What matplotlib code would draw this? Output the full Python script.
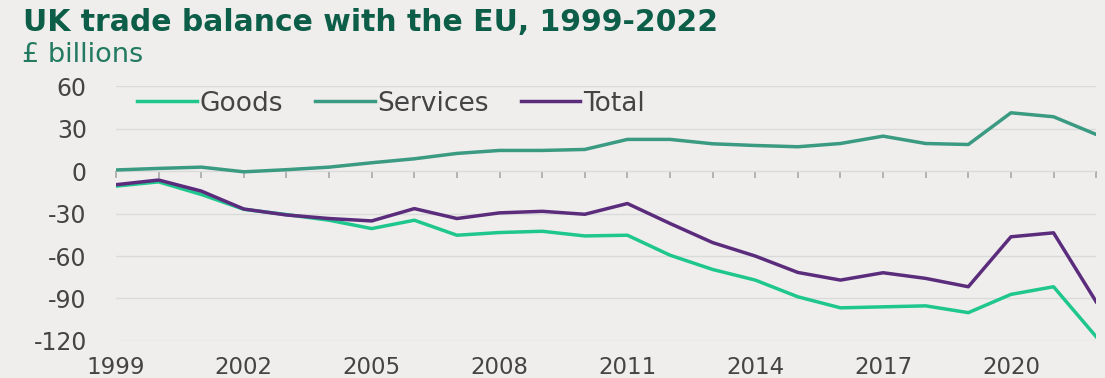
import matplotlib
matplotlib.use("Agg")
import matplotlib.pyplot as plt
import numpy as np

# UK trade balance with the EU, £ billions
years = list(range(1999, 2023))
goods = [-10.6, -7.6, -16.5, -27.0, -30.7, -34.7, -40.6, -34.7, -45.3, -43.4, -42.5, -45.8,
         -45.3, -59.4, -69.5, -77.0, -88.8, -96.6, -95.9, -95.2, -100.0, -87.1, -81.7, -117.0]
services = [0.8, 1.9, 2.8, -0.5, 1.0, 2.8, 5.9, 8.7, 12.5, 14.6, 14.6, 15.3,
            22.4, 22.4, 19.3, 18.1, 17.2, 19.5, 24.7, 19.5, 18.8, 41.2, 38.4, 25.9]
total = [-9.6, -6.3, -14.1, -26.8, -31.0, -33.5, -35.2, -26.5, -33.5, -29.5, -28.4, -30.5,
         -22.9, -37.0, -50.5, -60.0, -71.6, -77.0, -71.8, -75.8, -81.7, -46.4, -43.6, -92.3]
yticks = [60, 30, 0, -30, -60, -90, -120]
xlabels = list(range(1999, 2021, 3))

bg = "#efeeed"
c_goods = "#1fc78f"
c_serv = "#3b9a82"
c_total = "#5b2c7c"
txt = "#444444"

plt.rcParams["font.family"] = ["DejaVu Sans"]
plt.rcParams["axes.unicode_minus"] = False

fig = plt.figure(figsize=(11.05, 3.78), dpi=100, facecolor=bg)
ax = fig.add_axes([0.105, 0.098, 0.887, 0.674], facecolor=bg)

ax.plot(years, goods, color=c_goods, lw=2.5, label="Goods", solid_joinstyle="round")
ax.plot(years, services, color=c_serv, lw=2.5, label="Services", solid_joinstyle="round")
ax.plot(years, total, color=c_total, lw=2.5, label="Total", solid_joinstyle="round")

ax.set_xlim(1999, 2022)
ax.set_ylim(-120, 60)
ax.set_yticks(yticks)
ax.set_xticks(xlabels)
ax.grid(axis="y", color="#dadada", lw=1)
ax.set_axisbelow(True)
for s in ax.spines.values():
    s.set_visible(False)
ax.tick_params(axis="y", length=0, pad=21, labelsize=17, labelcolor=txt)
ax.tick_params(axis="x", length=0, pad=11, labelsize=16.5, labelcolor=txt)

# zero line with yearly tick marks
zx = ax.secondary_xaxis(2 / 3)
zx.set_xticks(years)
zx.tick_params(axis="x", direction="out", length=5, width=1.2, color="#a8a8a8", labelbottom=False, labeltop=False, bottom=True, top=False)
zx.spines["bottom"].set_color("#a8a8a8")
zx.spines["bottom"].set_linewidth(1.2)
zx.spines["top"].set_visible(False)
zx.xaxis.set_ticks_position("bottom")
zx.set_xticklabels([])

leg = ax.legend(loc="upper left", ncol=3, frameon=False, fontsize=19, handlelength=2.25,
                handletextpad=0.12, columnspacing=1.2, bbox_to_anchor=(0.003, 1.055), borderaxespad=0.3)
for t in leg.get_texts():
    t.set_color(txt)

fig.text(0.021, 1 - 31 / 378, "UK trade balance with the EU, 1999-2022", fontsize=21.5, fontweight="bold",
         color="#0d5e48", va="baseline", ha="left")
fig.text(0.020, 1 - 62 / 378, "£ billions", fontsize=19.5, color="#237a60", va="baseline", ha="left")

fig.savefig("out.png", dpi=100, facecolor=bg)
